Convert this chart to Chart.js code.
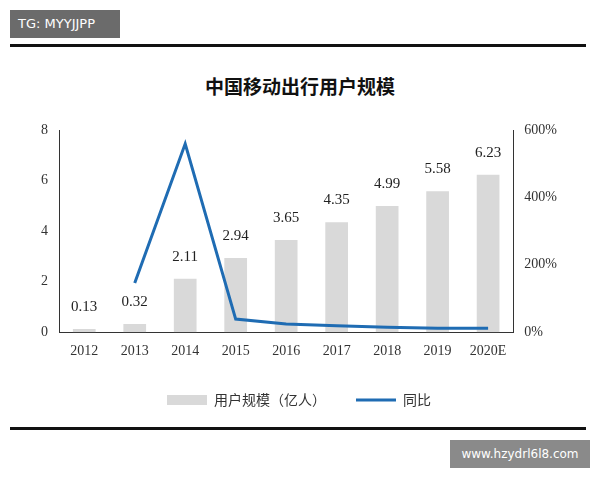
<!DOCTYPE html>
<html><head><meta charset="utf-8">
<script src="https://cdn.jsdelivr.net/npm/chart.js@4/dist/chart.umd.min.js"></script>
<style>
body{margin:0;width:600px;height:480px;background:#fff;position:relative;overflow:hidden;font-family:"Noto Sans CJK SC","Noto Sans",sans-serif}
#tag{position:absolute;left:10px;top:10px;width:110px;height:28px;background:#6b6b6b;color:#fff;font:13px "DejaVu Sans";line-height:28px;padding-left:8px;box-sizing:border-box}
.hl{position:absolute;left:10px;width:576px;height:3px;background:#111}
#title{position:absolute;left:0;width:600px;top:72px;text-align:center;font-weight:bold;font-size:19px;color:#111}
#wrap{position:absolute;left:0;top:112px;width:600px;height:305px}
#site{position:absolute;left:450px;top:440px;width:140px;height:28px;background:#8a8a8a;color:#fff;font:12px "DejaVu Sans";line-height:28px;text-align:center}
</style></head><body>
<div id="tag">TG: MYYJJPP</div>
<div class="hl" style="top:44px"></div>
<div id="title">中国移动出行用户规模</div>
<div id="wrap"><canvas id="c"></canvas></div>
<div class="hl" style="top:427px"></div>
<div id="site">www.hzydrl6l8.com</div>
<script>
const years=["2012","2013","2014","2015","2016","2017","2018","2019","2020E"];
const users=[0.13,0.32,2.11,2.94,3.65,4.35,4.99,5.58,6.23];
const growth=[null,146,559,39,24,19,15,12,12];
const labelPlugin={id:'lbl',afterDatasetsDraw(ch){const ctx=ch.ctx;const m=ch.getDatasetMeta(1);ctx.save();ctx.font='15px "Liberation Serif"';ctx.fillStyle='#222';ctx.textAlign='center';
m.data.forEach((b,i)=>{ctx.fillText(users[i].toFixed(2),b.x,b.y-22);});ctx.restore();}};
new Chart(document.getElementById('c'),{data:{labels:years,datasets:[
{type:'line',label:'同比',data:growth,yAxisID:'y1',borderColor:'#1f6cb3',borderWidth:3,pointRadius:0,pointStyle:'line',tension:0,order:0},
{type:'bar',label:'用户规模（亿人）',data:users,yAxisID:'y',backgroundColor:'#d9d9d9',pointStyle:'rect',barPercentage:0.45,categoryPercentage:1,order:1}]},
options:{responsive:true,maintainAspectRatio:false,animation:false,layout:{padding:{left:38,right:40,top:18}},
plugins:{legend:{position:'bottom',reverse:true,labels:{usePointStyle:true,pointStyleWidth:40,boxHeight:10,padding:30,color:'#333',font:{size:14,family:'"Noto Sans CJK SC"'}}},tooltip:{enabled:false}},
scales:{x:{grid:{display:false},border:{color:'#333'},ticks:{color:'#333',font:{size:14,family:'"Liberation Serif"'}}},
y:{min:0,max:8,ticks:{stepSize:2,color:'#333',font:{size:14,family:'"Liberation Serif"'}},grid:{display:false},border:{color:'#333'}},
y1:{position:'right',min:0,max:600,ticks:{stepSize:200,color:'#333',callback:v=>v+'%',font:{size:14,family:'"Liberation Serif"'}},grid:{display:false},border:{color:'#333'}}}},
plugins:[labelPlugin]});
</script></body></html>
